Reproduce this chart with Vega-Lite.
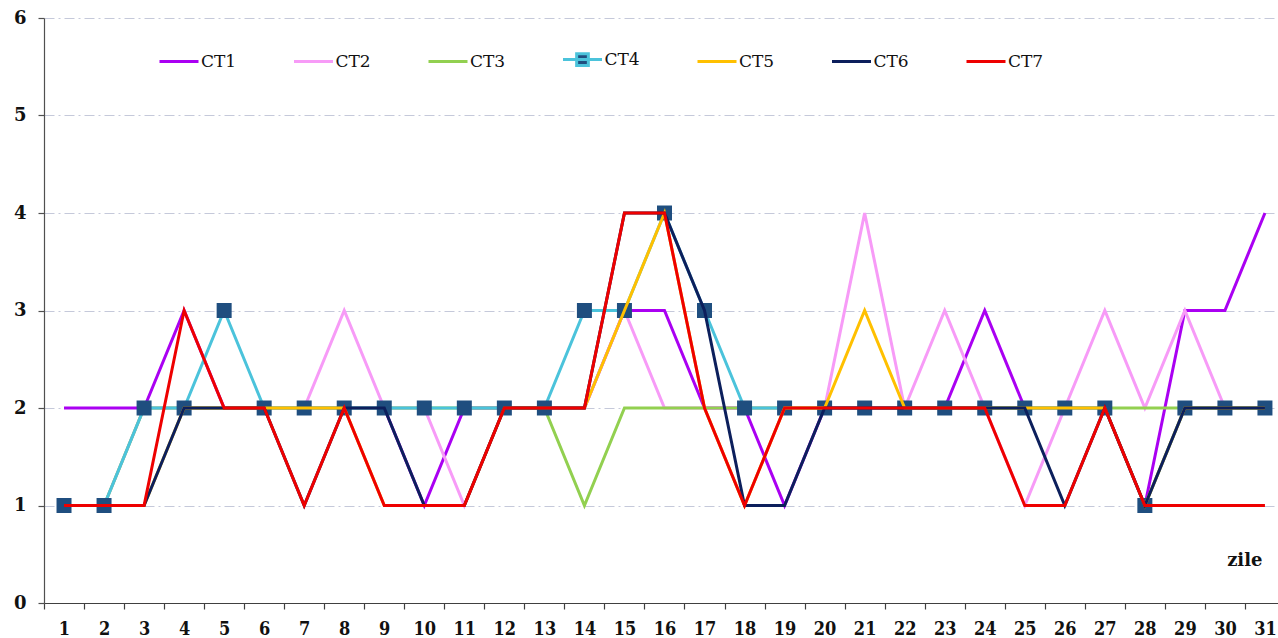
{
  "$schema": "https://vega.github.io/schema/vega-lite/v6.json",
  "width": 1234,
  "height": 585,
  "autosize": {"type": "none"},
  "padding": {"left": 44, "top": 18, "right": 0, "bottom": 35},
  "background": "white",
  "config": {"view": {"stroke": null}, "font": "DejaVu Serif"},
  "datasets": {
    "d": [
      {"s":"CT1","d":1,"v":2},{"s":"CT1","d":2,"v":2},{"s":"CT1","d":3,"v":2},{"s":"CT1","d":4,"v":3},{"s":"CT1","d":5,"v":2},{"s":"CT1","d":6,"v":2},{"s":"CT1","d":7,"v":2},{"s":"CT1","d":8,"v":2},{"s":"CT1","d":9,"v":2},{"s":"CT1","d":10,"v":1},{"s":"CT1","d":11,"v":2},{"s":"CT1","d":12,"v":2},{"s":"CT1","d":13,"v":2},{"s":"CT1","d":14,"v":2},{"s":"CT1","d":15,"v":3},{"s":"CT1","d":16,"v":3},{"s":"CT1","d":17,"v":2},{"s":"CT1","d":18,"v":2},{"s":"CT1","d":19,"v":1},{"s":"CT1","d":20,"v":2},{"s":"CT1","d":21,"v":2},{"s":"CT1","d":22,"v":2},{"s":"CT1","d":23,"v":2},{"s":"CT1","d":24,"v":3},{"s":"CT1","d":25,"v":2},{"s":"CT1","d":26,"v":2},{"s":"CT1","d":27,"v":2},{"s":"CT1","d":28,"v":1},{"s":"CT1","d":29,"v":3},{"s":"CT1","d":30,"v":3},{"s":"CT1","d":31,"v":4},
      {"s":"CT2","d":1,"v":1},{"s":"CT2","d":2,"v":1},{"s":"CT2","d":3,"v":2},{"s":"CT2","d":4,"v":2},{"s":"CT2","d":5,"v":2},{"s":"CT2","d":6,"v":2},{"s":"CT2","d":7,"v":2},{"s":"CT2","d":8,"v":3},{"s":"CT2","d":9,"v":2},{"s":"CT2","d":10,"v":2},{"s":"CT2","d":11,"v":1},{"s":"CT2","d":12,"v":2},{"s":"CT2","d":13,"v":2},{"s":"CT2","d":14,"v":2},{"s":"CT2","d":15,"v":3},{"s":"CT2","d":16,"v":2},{"s":"CT2","d":17,"v":2},{"s":"CT2","d":18,"v":2},{"s":"CT2","d":19,"v":2},{"s":"CT2","d":20,"v":2},{"s":"CT2","d":21,"v":4},{"s":"CT2","d":22,"v":2},{"s":"CT2","d":23,"v":3},{"s":"CT2","d":24,"v":2},{"s":"CT2","d":25,"v":1},{"s":"CT2","d":26,"v":2},{"s":"CT2","d":27,"v":3},{"s":"CT2","d":28,"v":2},{"s":"CT2","d":29,"v":3},{"s":"CT2","d":30,"v":2},{"s":"CT2","d":31,"v":2},
      {"s":"CT3","d":1,"v":1},{"s":"CT3","d":2,"v":1},{"s":"CT3","d":3,"v":2},{"s":"CT3","d":4,"v":2},{"s":"CT3","d":5,"v":2},{"s":"CT3","d":6,"v":2},{"s":"CT3","d":7,"v":2},{"s":"CT3","d":8,"v":2},{"s":"CT3","d":9,"v":2},{"s":"CT3","d":10,"v":2},{"s":"CT3","d":11,"v":2},{"s":"CT3","d":12,"v":2},{"s":"CT3","d":13,"v":2},{"s":"CT3","d":14,"v":1},{"s":"CT3","d":15,"v":2},{"s":"CT3","d":16,"v":2},{"s":"CT3","d":17,"v":2},{"s":"CT3","d":18,"v":2},{"s":"CT3","d":19,"v":2},{"s":"CT3","d":20,"v":2},{"s":"CT3","d":21,"v":2},{"s":"CT3","d":22,"v":2},{"s":"CT3","d":23,"v":2},{"s":"CT3","d":24,"v":2},{"s":"CT3","d":25,"v":2},{"s":"CT3","d":26,"v":2},{"s":"CT3","d":27,"v":2},{"s":"CT3","d":28,"v":2},{"s":"CT3","d":29,"v":2},{"s":"CT3","d":30,"v":2},{"s":"CT3","d":31,"v":2},
      {"s":"CT4","d":1,"v":1},{"s":"CT4","d":2,"v":1},{"s":"CT4","d":3,"v":2},{"s":"CT4","d":4,"v":2},{"s":"CT4","d":5,"v":3},{"s":"CT4","d":6,"v":2},{"s":"CT4","d":7,"v":2},{"s":"CT4","d":8,"v":2},{"s":"CT4","d":9,"v":2},{"s":"CT4","d":10,"v":2},{"s":"CT4","d":11,"v":2},{"s":"CT4","d":12,"v":2},{"s":"CT4","d":13,"v":2},{"s":"CT4","d":14,"v":3},{"s":"CT4","d":15,"v":3},{"s":"CT4","d":16,"v":4},{"s":"CT4","d":17,"v":3},{"s":"CT4","d":18,"v":2},{"s":"CT4","d":19,"v":2},{"s":"CT4","d":20,"v":2},{"s":"CT4","d":21,"v":2},{"s":"CT4","d":22,"v":2},{"s":"CT4","d":23,"v":2},{"s":"CT4","d":24,"v":2},{"s":"CT4","d":25,"v":2},{"s":"CT4","d":26,"v":2},{"s":"CT4","d":27,"v":2},{"s":"CT4","d":28,"v":1},{"s":"CT4","d":29,"v":2},{"s":"CT4","d":30,"v":2},{"s":"CT4","d":31,"v":2},
      {"s":"CT5","d":1,"v":1},{"s":"CT5","d":2,"v":1},{"s":"CT5","d":3,"v":1},{"s":"CT5","d":4,"v":2},{"s":"CT5","d":5,"v":2},{"s":"CT5","d":6,"v":2},{"s":"CT5","d":7,"v":2},{"s":"CT5","d":8,"v":2},{"s":"CT5","d":9,"v":1},{"s":"CT5","d":10,"v":1},{"s":"CT5","d":11,"v":1},{"s":"CT5","d":12,"v":2},{"s":"CT5","d":13,"v":2},{"s":"CT5","d":14,"v":2},{"s":"CT5","d":15,"v":3},{"s":"CT5","d":16,"v":4},{"s":"CT5","d":17,"v":2},{"s":"CT5","d":18,"v":1},{"s":"CT5","d":19,"v":2},{"s":"CT5","d":20,"v":2},{"s":"CT5","d":21,"v":3},{"s":"CT5","d":22,"v":2},{"s":"CT5","d":23,"v":2},{"s":"CT5","d":24,"v":2},{"s":"CT5","d":25,"v":2},{"s":"CT5","d":26,"v":2},{"s":"CT5","d":27,"v":2},{"s":"CT5","d":28,"v":1},{"s":"CT5","d":29,"v":2},{"s":"CT5","d":30,"v":2},{"s":"CT5","d":31,"v":2},
      {"s":"CT6","d":1,"v":1},{"s":"CT6","d":2,"v":1},{"s":"CT6","d":3,"v":1},{"s":"CT6","d":4,"v":2},{"s":"CT6","d":5,"v":2},{"s":"CT6","d":6,"v":2},{"s":"CT6","d":7,"v":1},{"s":"CT6","d":8,"v":2},{"s":"CT6","d":9,"v":2},{"s":"CT6","d":10,"v":1},{"s":"CT6","d":11,"v":1},{"s":"CT6","d":12,"v":2},{"s":"CT6","d":13,"v":2},{"s":"CT6","d":14,"v":2},{"s":"CT6","d":15,"v":4},{"s":"CT6","d":16,"v":4},{"s":"CT6","d":17,"v":3},{"s":"CT6","d":18,"v":1},{"s":"CT6","d":19,"v":1},{"s":"CT6","d":20,"v":2},{"s":"CT6","d":21,"v":2},{"s":"CT6","d":22,"v":2},{"s":"CT6","d":23,"v":2},{"s":"CT6","d":24,"v":2},{"s":"CT6","d":25,"v":2},{"s":"CT6","d":26,"v":1},{"s":"CT6","d":27,"v":2},{"s":"CT6","d":28,"v":1},{"s":"CT6","d":29,"v":2},{"s":"CT6","d":30,"v":2},{"s":"CT6","d":31,"v":2},
      {"s":"CT7","d":1,"v":1},{"s":"CT7","d":2,"v":1},{"s":"CT7","d":3,"v":1},{"s":"CT7","d":4,"v":3},{"s":"CT7","d":5,"v":2},{"s":"CT7","d":6,"v":2},{"s":"CT7","d":7,"v":1},{"s":"CT7","d":8,"v":2},{"s":"CT7","d":9,"v":1},{"s":"CT7","d":10,"v":1},{"s":"CT7","d":11,"v":1},{"s":"CT7","d":12,"v":2},{"s":"CT7","d":13,"v":2},{"s":"CT7","d":14,"v":2},{"s":"CT7","d":15,"v":4},{"s":"CT7","d":16,"v":4},{"s":"CT7","d":17,"v":2},{"s":"CT7","d":18,"v":1},{"s":"CT7","d":19,"v":2},{"s":"CT7","d":20,"v":2},{"s":"CT7","d":21,"v":2},{"s":"CT7","d":22,"v":2},{"s":"CT7","d":23,"v":2},{"s":"CT7","d":24,"v":2},{"s":"CT7","d":25,"v":1},{"s":"CT7","d":26,"v":1},{"s":"CT7","d":27,"v":2},{"s":"CT7","d":28,"v":1},{"s":"CT7","d":29,"v":1},{"s":"CT7","d":30,"v":1},{"s":"CT7","d":31,"v":1}
    ]
  },
  "data": {"name": "d"},
  "encoding": {
    "x": {
      "field": "d", "type": "quantitative",
      "scale": {"domain": [0.5, 31.326], "nice": false, "zero": false},
      "axis": {
        "values": [1,2,3,4,5,6,7,8,9,10,11,12,13,14,15,16,17,18,19,20,21,22,23,24,25,26,27,28,29,30,31],
        "tickOffset": -20.015, "labelOffset": 20.015,
        "grid": false,
        "domainColor": "#404040", "domainWidth": 1.2,
        "tickColor": "#404040", "tickWidth": 1.2, "tickSize": 6,
        "labelFont": "DejaVu Serif Condensed, DejaVu Serif", "labelFontWeight": "bold", "labelFontSize": 18, "labelColor": "#111111",
        "labelPadding": 11, "labelFlush": false, "labelOverlap": false,
        "title": "zile", "titleFont": "DejaVu Serif", "titleFontWeight": "bold", "titleFontSize": 18, "titleColor": "#111111",
        "titleX": 1218, "titleY": -43, "titleAlign": "right", "titleBaseline": "middle"
      }
    },
    "y": {
      "field": "v", "type": "quantitative",
      "scale": {"domain": [0, 6], "nice": false},
      "axis": {
        "values": [0,1,2,3,4,5,6],
        "grid": true, "gridColor": "#C5C9DA", "gridDash": [10,4,2,4], "gridWidth": 1,
        "domainColor": "#505050", "domainWidth": 1.2,
        "tickColor": "#505050", "tickWidth": 1.2, "tickSize": 6,
        "labelFont": "DejaVu Serif", "labelFontWeight": "bold", "labelFontSize": 18, "labelColor": "#111111",
        "labelPadding": 12, "title": null
      }
    },
    "color": {
      "field": "s", "type": "nominal",
      "scale": {
        "domain": ["CT1","CT2","CT3","CT4","CT5","CT6","CT7"],
        "range": ["#AA00F2","#F79BF7","#92D050","#4BC3DB","#FFC000","#0C1F5C","#EE0000"]
      },
      "legend": {
        "orient": "none", "legendX": 114, "legendY": 20.5,
        "direction": "horizontal", "columns": 7, "title": null,
        "symbolType": "stroke", "symbolSize": 1521, "symbolStrokeWidth": 3,
        "labelFont": "DejaVu Serif", "labelFontSize": 17, "labelColor": "#111111",
        "labelOffset": 1, "columnPadding": 50.5, "padding": 0, "labelLimit": 100,
        "encode": {
          "symbols": {
            "update": {
              "shape": {"signal": "datum.value === 'CT4' ? 'M-1,0H1M-0.3,-0.3H0.3V0.3H-0.3Z' : 'stroke'"},
              "fill": {"signal": "datum.value === 'CT4' ? '#1F4E7F' : 'transparent'"}
            }
          }
        }
      }
    }
  },
  "layer": [
    {
      "transform": [{"filter": "indexof(['CT1','CT2','CT3','CT4'], datum.s) >= 0"}],
      "mark": {"type": "line", "strokeWidth": 3}
    },
    {
      "transform": [{"filter": "datum.s === 'CT4'"}],
      "mark": {"type": "point", "shape": "square", "filled": true, "size": 225, "opacity": 1},
      "encoding": {"color": {"value": "#1F4E7F"}}
    },
    {
      "transform": [{"filter": "indexof(['CT5','CT6','CT7'], datum.s) >= 0"}],
      "mark": {"type": "line", "strokeWidth": 3}
    }
  ]
}
